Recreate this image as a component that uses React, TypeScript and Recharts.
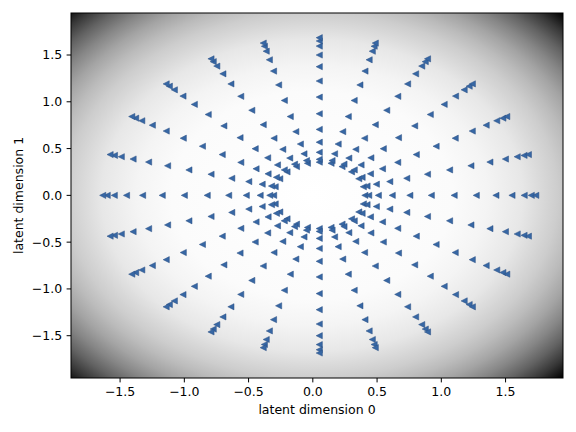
import React from 'react';
import { ScatterChart, Scatter, XAxis, YAxis, ReferenceArea } from 'recharts';

// 24 rays (every 15 degrees) and 13 radii per ray
const rayAnglesDeg = [0, 15, 30, 45, 60, 75, 90, 105, 120, 135, 150, 165, 180, 195, 210, 225, 240, 255, 270, 285, 300, 315, 330, 345];
const ringRadii = [0.355, 0.385, 0.46, 0.568, 0.705, 0.872, 1.05, 1.222, 1.375, 1.5, 1.595, 1.65, 1.685];
const centerX = 0.05;
const centerY = 0.0;

const xTicks = [-1.5, -1.0, -0.5, 0.0, 0.5, 1.0, 1.5];
const yTicks = [-1.5, -1.0, -0.5, 0.0, 0.5, 1.0, 1.5];
const xDomain: [number, number] = [-1.882, 1.947];
const yDomain: [number, number] = [-1.952, 1.949];
const xLabel = 'latent dimension 0';
const yLabel = 'latent dimension 1';

const points = rayAnglesDeg.flatMap((a) =>
  ringRadii.map((r) => ({
    x: centerX + r * Math.cos((a * Math.PI) / 180),
    y: centerY + r * Math.sin((a * Math.PI) / 180),
  }))
);

const FONT = '"DejaVu Sans", sans-serif';
const fmt = (v: number) => v.toFixed(1).replace('-', '\u2212');

const gradStops: [number, string][] = [
  [0, '#ffffff'],
  [0.4, '#fbfbfb'],
  [0.5, '#f4f4f4'],
  [0.6, '#e7e7e7'],
  [0.7, '#cdcdcd'],
  [0.75, '#bbbbbb'],
  [0.8, '#a4a4a4'],
  [0.85, '#868686'],
  [0.9, '#626262'],
  [0.95, '#363636'],
  [1, '#000000'],
];

const Marker = (p: any) => {
  const { cx, cy } = p;
  if (cx == null || cy == null) return null;
  const h = 3.1;
  return (
    <path
      d={`M${cx - h},${cy}L${cx + h},${cy - h}L${cx + h},${cy + h}Z`}
      fill="#3767a4"
      stroke="#2a4f82"
      strokeWidth={0.5}
    />
  );
};

const BgShape = (p: any) => {
  const { x, y, width, height } = p;
  return (
    <g>
      <defs>
        <radialGradient id="bgGrad" cx="0.49" cy="0.5" r="0.714">
          {gradStops.map(([o, c]) => (
            <stop key={o} offset={o} stopColor={c} />
          ))}
        </radialGradient>
      </defs>
      <rect x={x} y={y} width={width} height={height} fill="url(#bgGrad)" stroke="#000" strokeWidth={1} />
    </g>
  );
};

export default function App() {
  return (
    <div style={{ position: 'absolute', left: 0, top: 0, width: 576, height: 432, background: '#fff' }}>
      <ScatterChart width={576} height={432} margin={{ top: 13, right: 13, bottom: 0, left: 0 }}>
        <XAxis
          dataKey="x"
          type="number"
          domain={xDomain}
          ticks={xTicks}
          interval={0}
          allowDataOverflow
          height={54}
          tickSize={4.4}
          tickMargin={5}
          axisLine={false}
          tickLine={{ stroke: '#000', strokeWidth: 1 }}
          tick={{ fill: '#000', fontSize: 12.5, fontFamily: FONT }}
          tickFormatter={fmt}
          label={(props: any) => {
            const vb = props.viewBox || {};
            return (
              <text x={vb.x + vb.width / 2} y={vb.y + 36} textAnchor="middle" fill="#000" fontSize={12.5} fontFamily={FONT}>
                {xLabel}
              </text>
            );
          }}
        />
        <YAxis
          dataKey="y"
          type="number"
          domain={yDomain}
          ticks={yTicks}
          interval={0}
          allowDataOverflow
          width={71}
          tickSize={4.4}
          tickMargin={4.4}
          axisLine={false}
          tickLine={{ stroke: '#000', strokeWidth: 1 }}
          tick={{ fill: '#000', fontSize: 12.5, fontFamily: FONT }}
          tickFormatter={fmt}
          label={(props: any) => {
            const vb = props.viewBox || {};
            const lx = vb.x + 22.5;
            const ly = vb.y + vb.height / 2;
            return (
              <text x={lx} y={ly} transform={`rotate(-90, ${lx}, ${ly})`} textAnchor="middle" fill="#000" fontSize={12.5} fontFamily={FONT}>
                {yLabel}
              </text>
            );
          }}
        />
        <ReferenceArea
          x1={xDomain[0]}
          x2={xDomain[1]}
          y1={yDomain[0]}
          y2={yDomain[1]}
          ifOverflow="visible"
          shape={BgShape}
        />
        <Scatter data={points} shape={Marker} isAnimationActive={false} />
      </ScatterChart>
    </div>
  );
}
